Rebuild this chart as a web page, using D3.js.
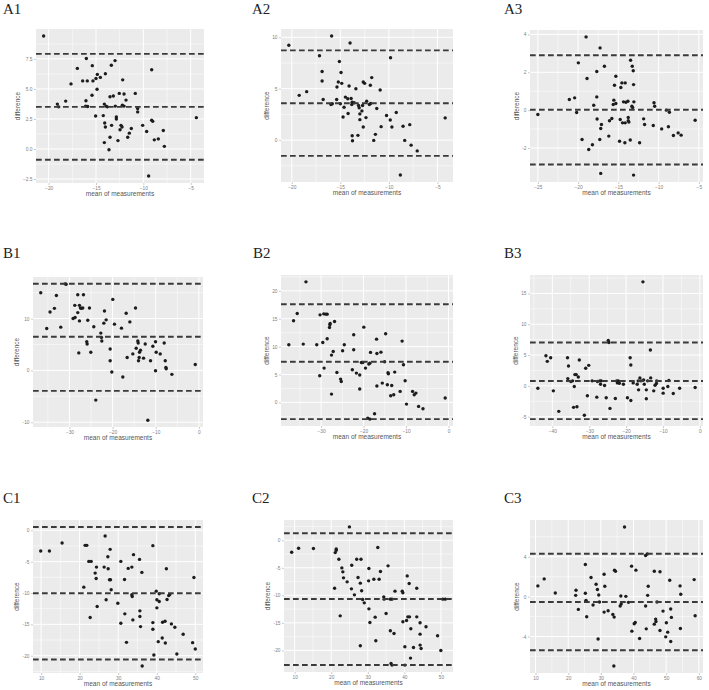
<!DOCTYPE html>
<html>
<head>
<meta charset="utf-8">
<script src="https://cdn.jsdelivr.net/npm/d3@7"></script>
<style>
  body { margin: 0; background: #fff; }
  svg { display: block; }
</style>
</head>
<body>
<div id="chart"></div>
<script>
// Bland-Altman panels: [mean of measurements, difference]
const a1Points = [[-20.53,9.41],[-16.97,6.71],[-16.02,7.53],[-17.64,5.42],[-18.20,3.99],[-19.08,3.74],[-18.94,3.51],[-16.41,5.67],[-15.92,5.67],[-15.39,6.94],[-15.32,5.67],[-15.00,5.87],[-14.86,6.21],[-14.54,5.96],[-14.01,6.26],[-14.89,4.97],[-15.42,4.47],[-16.06,4.02],[-16.09,3.57],[-15.88,3.54],[-15.04,2.75],[-13.38,6.97],[-12.99,7.36],[-12.18,5.76],[-13.52,4.35],[-13.17,4.41],[-14.12,3.74],[-13.94,3.57],[-13.80,3.51],[-14.23,2.78],[-12.96,3.57],[-12.85,2.67],[-12.85,2.50],[-12.54,4.63],[-12.04,4.58],[-12.22,3.65],[-12.04,3.57],[-11.83,4.07],[-10.85,4.63],[-10.60,3.37],[-10.60,3.09],[-14.08,2.16],[-14.01,1.83],[-13.35,1.97],[-12.36,1.97],[-12.25,1.83],[-12.46,1.60],[-12.68,0.70],[-13.52,0.98],[-14.12,0.53],[-13.63,-0.06],[-11.65,0.98],[-11.48,1.32],[-11.27,1.71],[-10.07,1.97],[-9.65,1.46],[-9.12,2.39],[-9.01,2.30],[-9.12,6.60],[-8.84,0.76],[-8.42,0.84],[-7.89,1.54],[-7.78,0.22],[-4.40,2.61],[-9.44,-2.25]];
const a2Points = [[-20.31,9.22],[-19.24,4.35],[-18.47,4.71],[-17.15,8.20],[-16.88,6.67],[-16.88,5.75],[-16.77,3.95],[-15.90,10.13],[-15.97,3.46],[-15.83,3.53],[-15.38,3.95],[-15.35,5.16],[-15.21,5.65],[-15.10,7.65],[-14.93,6.57],[-14.86,5.52],[-15.00,3.53],[-14.72,2.25],[-14.62,3.20],[-14.48,4.18],[-14.24,4.02],[-14.20,2.58],[-14.10,5.26],[-14.00,9.44],[-13.89,4.05],[-13.78,3.69],[-13.82,3.46],[-13.58,3.63],[-13.78,0.42],[-13.75,-0.07],[-13.40,5.00],[-13.19,0.46],[-13.13,3.37],[-13.06,3.14],[-12.99,2.55],[-12.99,1.99],[-12.78,2.84],[-12.71,3.37],[-12.64,5.65],[-12.50,5.52],[-12.64,1.27],[-12.36,2.19],[-12.29,3.79],[-12.01,3.46],[-11.91,5.33],[-11.77,6.08],[-11.88,3.56],[-11.56,-0.03],[-11.39,0.56],[-11.25,3.07],[-10.90,4.87],[-10.80,1.31],[-10.24,2.39],[-9.86,1.96],[-9.69,1.27],[-9.83,8.01],[-9.24,2.68],[-8.82,-3.40],[-8.54,1.34],[-8.37,-0.03],[-7.85,1.50],[-7.71,-0.49],[-7.08,-1.05],[-4.20,2.16]];
const a3Points = [[-25.00,-0.23],[-21.09,0.56],[-20.43,0.65],[-20.18,-0.12],[-19.97,2.50],[-19.51,-1.55],[-19.01,3.87],[-18.89,1.67],[-18.68,-2.08],[-18.22,-1.83],[-18.06,0.26],[-17.68,0.70],[-17.68,2.04],[-17.64,-0.47],[-17.27,3.29],[-17.31,-1.55],[-17.19,-0.97],[-17.10,-0.76],[-16.73,2.32],[-17.19,-3.34],[-16.19,-1.37],[-16.10,-0.56],[-15.81,-0.44],[-15.64,0.30],[-15.56,0.53],[-15.48,1.32],[-15.31,1.79],[-15.31,0.35],[-14.85,-1.64],[-14.77,-0.49],[-14.69,1.20],[-14.56,1.44],[-14.48,-0.67],[-14.36,0.44],[-14.15,1.44],[-14.15,-0.67],[-14.19,-1.72],[-14.06,0.42],[-13.81,0.47],[-13.77,-0.56],[-13.77,-0.39],[-13.69,-0.63],[-13.52,-1.58],[-13.48,2.64],[-13.27,2.32],[-13.15,2.08],[-13.11,1.35],[-13.32,0.21],[-13.23,0.14],[-13.07,0.44],[-13.11,-3.43],[-12.36,-1.72],[-11.86,-0.46],[-11.74,-0.76],[-10.57,0.39],[-10.49,0.21],[-10.66,-0.81],[-9.62,-0.99],[-9.03,0.00],[-8.66,-0.11],[-8.78,-0.88],[-8.16,-1.34],[-7.57,-1.20],[-7.20,-1.32],[-5.46,-0.53]];
const b1Points = [[-36.65,14.97],[-35.26,8.09],[-34.49,11.27],[-33.48,11.97],[-33.02,14.46],[-32.01,8.34],[-31.00,16.69],[-30.77,16.62],[-29.15,10.00],[-28.69,10.19],[-28.76,12.55],[-28.07,14.59],[-28.07,11.15],[-27.83,3.38],[-27.68,12.55],[-27.45,12.04],[-27.22,11.97],[-26.91,12.04],[-26.75,14.59],[-27.68,9.55],[-25.98,5.54],[-25.90,5.10],[-25.75,9.68],[-25.36,12.04],[-25.05,3.50],[-24.35,8.41],[-23.89,-5.73],[-22.73,7.20],[-22.58,6.37],[-22.50,5.67],[-22.03,9.11],[-21.88,11.46],[-21.49,9.75],[-20.56,4.14],[-20.56,1.85],[-20.18,-0.32],[-19.95,13.69],[-19.56,8.92],[-17.94,8.15],[-17.63,-1.27],[-16.85,11.02],[-16.62,2.48],[-16.00,9.36],[-15.31,3.18],[-14.69,12.04],[-14.53,4.27],[-14.15,5.67],[-14.07,5.29],[-13.99,1.85],[-13.84,2.48],[-13.76,3.50],[-13.53,3.89],[-12.83,2.36],[-12.44,5.10],[-11.83,-9.60],[-11.21,1.85],[-10.67,4.65],[-10.05,5.54],[-9.89,3.50],[-10.05,-0.06],[-8.96,3.18],[-8.04,5.29],[-7.80,1.85],[-7.65,0.57],[-7.57,0.32],[-6.26,-0.76],[-0.84,1.15]];
const b2Points = [[-37.60,10.33],[-36.49,14.63],[-35.62,15.94],[-34.20,10.45],[-33.56,21.61],[-31.03,10.33],[-30.32,4.78],[-30.24,15.70],[-29.60,10.75],[-29.37,15.88],[-29.29,6.15],[-28.89,15.82],[-28.57,15.82],[-28.57,11.40],[-28.02,13.43],[-27.94,13.91],[-27.86,14.15],[-27.55,1.49],[-27.55,8.48],[-27.15,9.13],[-26.83,14.51],[-26.28,5.37],[-25.41,4.18],[-25.25,3.76],[-24.93,9.25],[-24.54,10.33],[-22.64,5.85],[-22.32,9.43],[-22.32,12.12],[-21.69,5.25],[-20.90,4.90],[-20.90,2.39],[-20.50,7.16],[-19.94,13.49],[-20.18,7.16],[-19.55,6.15],[-19.00,-2.81],[-18.76,6.87],[-18.52,7.04],[-18.52,-2.99],[-18.36,8.96],[-17.41,-2.03],[-16.94,11.34],[-16.86,2.93],[-16.86,8.78],[-15.91,9.01],[-15.59,3.46],[-15.04,7.28],[-14.80,12.30],[-14.40,3.16],[-14.24,5.31],[-14.16,5.13],[-13.61,1.19],[-13.37,3.04],[-12.90,1.37],[-12.66,5.43],[-11.39,1.97],[-10.92,10.99],[-10.60,6.75],[-10.21,3.88],[-9.89,-0.30],[-8.46,1.97],[-8.07,1.37],[-7.67,1.67],[-7.04,-0.72],[-6.01,-1.13],[-0.78,0.78]];
const b3Points = [[-43.93,-0.38],[-41.74,4.89],[-41.37,3.98],[-40.46,4.57],[-39.73,-0.81],[-38.26,-4.14],[-35.89,4.57],[-35.62,3.23],[-35.80,1.18],[-34.98,0.70],[-34.52,0.81],[-34.25,-3.49],[-34.06,-0.11],[-33.88,1.83],[-33.52,1.83],[-33.33,-3.39],[-32.97,1.45],[-32.69,4.19],[-31.32,-4.78],[-30.96,2.85],[-30.50,-1.61],[-30.14,3.33],[-29.22,0.81],[-27.95,-1.83],[-27.76,0.70],[-27.12,0.81],[-26.94,0.27],[-26.76,0.81],[-25.84,0.05],[-25.39,-1.94],[-24.84,7.37],[-24.66,7.04],[-24.38,-3.66],[-22.92,-2.04],[-22.56,0.81],[-22.37,0.48],[-22.10,0.81],[-21.83,0.43],[-20.73,0.27],[-19.64,-1.94],[-18.90,4.57],[-18.72,3.39],[-18.72,-2.37],[-18.08,0.48],[-16.99,0.27],[-16.71,0.81],[-16.62,-0.65],[-16.26,1.29],[-15.98,0.81],[-15.43,16.88],[-15.25,0.97],[-15.07,0.27],[-14.52,-0.65],[-14.52,-2.10],[-14.16,0.81],[-13.42,5.81],[-13.33,1.29],[-12.51,-0.81],[-12.15,0.11],[-11.78,0.38],[-11.69,0.81],[-9.95,-0.38],[-9.95,-1.18],[-8.68,-0.11],[-8.40,0.86],[-7.21,-1.24],[-5.48,-0.38],[-1.28,-0.27]];
const c1Points = [[9.91,-3.31],[12.16,-3.31],[15.45,-2.03],[21.08,-9.07],[21.43,-2.40],[21.86,-2.40],[22.38,-4.96],[22.99,-4.96],[22.73,-13.92],[24.03,-6.83],[24.37,-5.87],[24.29,-7.68],[24.55,-12.16],[26.36,-5.87],[26.62,-0.91],[26.88,-11.09],[27.32,-4.21],[27.40,-6.13],[27.75,-7.89],[27.92,-3.04],[28.01,-7.89],[28.18,-9.49],[29.91,-11.63],[30.69,-14.83],[30.69,-4.96],[31.73,-13.33],[31.65,-7.84],[32.16,-17.87],[32.60,-6.08],[33.55,-5.87],[33.55,-10.29],[33.64,-10.56],[33.81,-14.29],[33.98,-3.89],[35.54,-4.64],[35.63,-12.85],[35.63,-13.76],[35.80,-15.36],[36.15,-6.72],[36.23,-21.65],[39.00,-2.45],[39.00,-14.72],[39.00,-15.79],[39.26,-19.89],[39.87,-9.71],[40.04,-12.37],[40.04,-11.09],[40.39,-17.76],[40.65,-11.36],[40.65,-10.13],[41.43,-17.17],[41.52,-14.67],[42.16,-14.51],[42.23,-17.97],[42.50,-6.13],[42.68,-11.04],[43.11,-10.40],[43.38,-10.24],[43.81,-14.93],[44.70,-15.47],[45.22,-19.73],[46.86,-16.59],[49.31,-17.92],[49.65,-7.52],[50.00,-18.93]];
const c2Points = [[9.19,-2.18],[11.08,-1.45],[15.14,-1.51],[20.92,-8.70],[21.10,-2.24],[21.37,-1.81],[21.37,-1.57],[22.09,-3.44],[22.45,-13.72],[22.91,-5.02],[23.18,-5.74],[23.36,-6.83],[24.35,-7.55],[24.98,2.42],[25.61,-4.53],[25.52,-8.82],[26.34,-9.91],[26.97,-3.44],[27.33,-6.77],[27.96,-7.79],[28.14,-3.44],[27.96,-19.15],[28.32,-9.18],[28.59,-10.76],[29.04,-11.36],[30.31,-5.14],[30.22,-7.37],[30.31,-12.45],[30.58,-14.92],[31.66,-7.07],[32.02,-13.96],[32.20,-18.25],[32.74,-1.33],[33.10,-7.07],[33.47,-5.68],[34.37,-10.27],[34.46,-10.69],[35.00,-13.29],[35.54,-4.65],[36.17,-10.69],[36.62,-10.69],[36.17,-16.43],[36.35,-22.36],[36.62,-22.66],[37.17,-16.92],[37.44,-9.24],[39.42,-9.24],[39.60,-9.55],[39.60,-14.80],[40.14,-19.34],[40.14,-22.66],[40.60,-14.56],[40.78,-6.47],[40.96,-13.90],[41.32,-7.85],[41.41,-13.90],[41.77,-16.07],[41.68,-21.39],[42.49,-19.46],[43.39,-8.70],[43.39,-13.90],[44.30,-14.98],[44.30,-17.04],[44.30,-19.03],[44.57,-19.64],[45.92,-15.71],[49.08,-17.34],[49.98,-20.00],[50.50,-10.69],[51.20,-10.69]];
const c3Points = [[10.72,1.08],[12.66,1.78],[16.05,0.37],[22.40,0.64],[22.30,0.13],[23.11,-1.28],[25.26,3.23],[25.26,0.34],[25.46,-0.37],[25.67,-2.02],[27.00,1.92],[27.62,-0.84],[28.55,1.24],[28.95,0.71],[29.36,0.17],[29.57,-0.54],[29.16,-4.24],[31.00,2.25],[31.21,1.04],[31.00,-1.55],[32.23,-1.41],[33.67,-1.78],[34.18,2.66],[34.49,2.55],[34.08,-2.05],[33.98,-6.96],[36.13,0.07],[35.92,-0.94],[36.23,-0.74],[37.25,6.99],[37.66,0.03],[38.48,-0.57],[39.41,3.06],[39.51,-3.46],[40.22,-2.72],[40.53,-2.59],[40.74,2.66],[41.86,-4.20],[43.71,-0.94],[43.91,-3.23],[43.71,4.13],[44.22,4.27],[44.34,0.13],[44.51,1.04],[46.37,2.55],[46.37,-2.76],[46.78,-2.25],[47.19,-0.54],[46.88,-2.49],[48.11,2.49],[48.11,-3.39],[49.04,-1.45],[49.86,-4.03],[50.06,-2.62],[50.47,-3.56],[51.09,1.65],[51.39,-1.24],[51.60,-2.08],[51.39,-4.50],[54.26,1.08],[54.47,0.24],[54.36,-3.19],[58.57,1.71],[58.87,-1.92]];

// upper limit, mean difference, lower limit
const a1Limits = [7.92, 3.51, -0.90];
const a2Limits = [8.73, 3.59, -1.54];
const a3Limits = [2.90, 0.02, -2.87];
const b1Limits = [16.7, 6.5, -3.95];
const b2Limits = [17.6, 7.3, -3.0];
const b3Limits = [7.05, 0.8, -5.4];
const c1Limits = [0.53, -10.05, -20.6];
const c2Limits = [1.27, -10.66, -22.65];
const c3Limits = [4.30, -0.54, -5.38];

// tick values
const aXTicks = [-20, -15, -10, -5];
const a3XTicks = [-25, -20, -15, -10, -5];
const a1YTicks = [-2.5, 0, 2.5, 5, 7.5];
const a2YTicks = [0, 5, 10];
const a3YTicks = [-2, 0, 2, 4];
const bXTicks = [-30, -20, -10, 0];
const b3XTicks = [-40, -30, -20, -10, 0];
const b1YTicks = [-10, 0, 10];
const b2YTicks = [0, 5, 10, 15, 20];
const b3YTicks = [-5, 0, 5, 10, 15];
const cXTicks = [10, 20, 30, 40, 50];
const c3XTicks = [10, 20, 30, 40, 50, 60];
const cYTicks = [-20, -15, -10, -5, 0];
const c3YTicks = [-4, 0, 4];

const width = 709, height = 690;
const sansFont = "'Liberation Sans', Arial, sans-serif";

const svg = d3.select("#chart")
  .append("svg")
  .attr("width", width)
  .attr("height", height)
  .style("background", "#fff");

// panel boxes and panel letters
const panels = [
  { label: "A1", points: a1Points, limits: a1Limits, xTicks: aXTicks,  yTicks: a1YTicks, yFmt: d3.format(".1f"), x0: 36,  x1: 204, y0: 29,  y1: 183, lx: 3,   ly: 14 },
  { label: "A2", points: a2Points, limits: a2Limits, xTicks: aXTicks,  yTicks: a2YTicks, x0: 281, x1: 453, y0: 29,  y1: 182, lx: 252, ly: 14 },
  { label: "A3", points: a3Points, limits: a3Limits, xTicks: a3XTicks, yTicks: a3YTicks, x0: 530, x1: 703, y0: 30,  y1: 182, lx: 504, ly: 14 },
  { label: "B1", points: b1Points, limits: b1Limits, xTicks: bXTicks,  yTicks: b1YTicks, x0: 33,  x1: 203, y0: 277, y1: 427, lx: 3,   ly: 258 },
  { label: "B2", points: b2Points, limits: b2Limits, xTicks: bXTicks,  yTicks: b2YTicks, x0: 281, x1: 453, y0: 275, y1: 426, lx: 253, ly: 258 },
  { label: "B3", points: b3Points, limits: b3Limits, xTicks: b3XTicks, yTicks: b3YTicks, x0: 530, x1: 703, y0: 275, y1: 426, lx: 504, ly: 258 },
  { label: "C1", points: c1Points, limits: c1Limits, xTicks: cXTicks,  yTicks: cYTicks,  x0: 33,  x1: 203, y0: 520, y1: 673, lx: 3,   ly: 503 },
  { label: "C2", points: c2Points, limits: c2Limits, xTicks: cXTicks,  yTicks: cYTicks,  x0: 284, x1: 453, y0: 520, y1: 672, lx: 252, ly: 503 },
  { label: "C3", points: c3Points, limits: c3Limits, xTicks: c3XTicks, yTicks: c3YTicks, x0: 530, x1: 703, y0: 520, y1: 673, lx: 504, ly: 503 },
];

// ggplot-like minor breaks: halfway between majors
function minorBreaks(ticks, scale) {
  const step = ticks[1] - ticks[0];
  const dom = scale.domain();
  return [ticks[0] - step / 2].concat(ticks.map(t => t + step / 2))
    .filter(v => v > dom[0] && v < dom[1]);
}

function drawPanel(p) {
  const g = svg.append("g");

  // 5% expansion like ggplot, limits lines count towards the y range
  const xExt = d3.extent(p.points, d => d[0]);
  const yExt = d3.extent(p.points.map(d => d[1]).concat(p.limits));
  const xPad = (xExt[1] - xExt[0]) * 0.05;
  const yPad = (yExt[1] - yExt[0]) * 0.05;

  const x = d3.scaleLinear().domain([xExt[0] - xPad, xExt[1] + xPad]).range([p.x0, p.x1]);
  const y = d3.scaleLinear().domain([yExt[0] - yPad, yExt[1] + yPad]).range([p.y1, p.y0]);

  g.append("rect")
    .attr("x", p.x0).attr("y", p.y0)
    .attr("width", p.x1 - p.x0).attr("height", p.y1 - p.y0)
    .attr("fill", "#ebebeb");

  // grid
  g.selectAll(".vminor").data(minorBreaks(p.xTicks, x)).join("line")
    .attr("x1", d => x(d)).attr("x2", d => x(d))
    .attr("y1", p.y0).attr("y2", p.y1)
    .attr("stroke", "#fff").attr("stroke-width", 0.5);
  g.selectAll(".hminor").data(minorBreaks(p.yTicks, y)).join("line")
    .attr("y1", d => y(d)).attr("y2", d => y(d))
    .attr("x1", p.x0).attr("x2", p.x1)
    .attr("stroke", "#fff").attr("stroke-width", 0.5);
  g.selectAll(".vmajor").data(p.xTicks).join("line")
    .attr("x1", d => x(d)).attr("x2", d => x(d))
    .attr("y1", p.y0).attr("y2", p.y1)
    .attr("stroke", "#fff").attr("stroke-width", 1);
  g.selectAll(".hmajor").data(p.yTicks).join("line")
    .attr("y1", d => y(d)).attr("y2", d => y(d))
    .attr("x1", p.x0).attr("x2", p.x1)
    .attr("stroke", "#fff").attr("stroke-width", 1);

  // points
  g.selectAll(".pt").data(p.points).join("circle")
    .attr("cx", d => x(d[0]))
    .attr("cy", d => y(d[1]))
    .attr("r", 1.7)
    .attr("fill", "#1c1c1c");

  // mean difference and limits of agreement
  g.selectAll(".loa").data(p.limits).join("line")
    .attr("x1", p.x0).attr("x2", p.x1)
    .attr("y1", d => y(d)).attr("y2", d => y(d))
    .attr("stroke", "#3a3a3a")
    .attr("stroke-width", 1.9)
    .attr("stroke-dasharray", "5.7,3.3");

  // axes
  const xAxis = g.append("g")
    .attr("transform", `translate(0,${p.y1})`)
    .call(d3.axisBottom(x).tickValues(p.xTicks).tickSize(2).tickPadding(1.5));
  const yAxis = g.append("g")
    .attr("transform", `translate(${p.x0},0)`)
    .call(d3.axisLeft(y).tickValues(p.yTicks).tickFormat(p.yFmt || (d => d)).tickSize(2).tickPadding(1.5));

  [xAxis, yAxis].forEach(a => {
    a.select(".domain").remove();
    a.selectAll("line").attr("stroke", "#aaa").attr("stroke-width", 0.6);
    a.selectAll("text")
      .attr("font-size", 4.8)
      .attr("font-family", sansFont)
      .attr("fill", "#808080");
  });

  // axis titles
  g.append("text")
    .attr("x", (p.x0 + p.x1) / 2)
    .attr("y", p.y1 + 13)
    .attr("text-anchor", "middle")
    .attr("font-family", sansFont)
    .attr("font-size", 6.5)
    .attr("fill", "#555")
    .text("mean of measurements");

  // bbox is in the axis group's own coordinates, so shift by the panel left edge
  const yb = yAxis.node().getBBox();
  const titleX = p.x0 + yb.x - 3.5;
  g.append("text")
    .attr("transform", `translate(${titleX},${(p.y0 + p.y1) / 2}) rotate(-90)`)
    .attr("text-anchor", "middle")
    .attr("font-family", sansFont)
    .attr("font-size", 6.5)
    .attr("fill", "#555")
    .text("difference");

  // panel letter
  svg.append("text")
    .attr("x", p.lx)
    .attr("y", p.ly)
    .attr("font-family", "'Liberation Serif', 'Times New Roman', serif")
    .attr("font-size", 15)
    .attr("fill", "#222")
    .text(p.label);
}

panels.forEach(drawPanel);
</script>
</body>
</html>
